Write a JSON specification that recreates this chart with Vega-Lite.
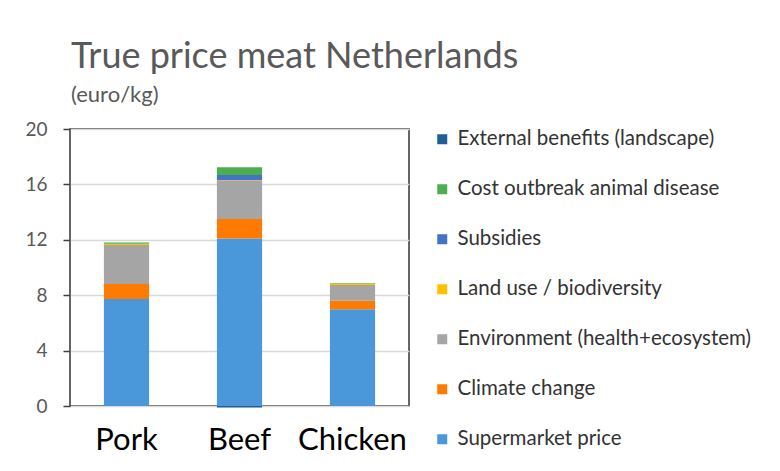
{
  "$schema": "https://vega.github.io/schema/vega-lite/v6.json",
  "width": 339,
  "height": 277,
  "autosize": {"type": "none"},
  "padding": {"left": 70, "top": 129, "right": 371, "bottom": 65},
  "background": "white",
  "title": {
    "text": "True price meat Netherlands",
    "subtitle": "(euro/kg)",
    "anchor": "start",
    "frame": "group",
    "font": "Lato",
    "fontSize": 36,
    "fontWeight": "normal",
    "color": "#595959",
    "subtitleFont": "Lato",
    "subtitleFontSize": 22,
    "subtitleColor": "#595959",
    "subtitlePadding": 9,
    "offset": 13,
    "dx": 1
  },
  "data": {
    "values": [
      {"meat": "Pork", "cat": "Supermarket price", "rank": 1, "value": 7.73},
      {"meat": "Pork", "cat": "Climate change", "rank": 2, "value": 1.08},
      {"meat": "Pork", "cat": "Environment (health+ecosystem)", "rank": 3, "value": 2.81},
      {"meat": "Pork", "cat": "Land use / biodiversity", "rank": 4, "value": 0.1},
      {"meat": "Pork", "cat": "Subsidies", "rank": 5, "value": 0.0},
      {"meat": "Pork", "cat": "Cost outbreak animal disease", "rank": 6, "value": 0.08},
      {"meat": "Pork", "cat": "External benefits (landscape)", "rank": 7, "value": 0.0},
      {"meat": "Beef", "cat": "Supermarket price", "rank": 1, "value": 12.1},
      {"meat": "Beef", "cat": "Climate change", "rank": 2, "value": 1.4},
      {"meat": "Beef", "cat": "Environment (health+ecosystem)", "rank": 3, "value": 2.77},
      {"meat": "Beef", "cat": "Land use / biodiversity", "rank": 4, "value": 0.03},
      {"meat": "Beef", "cat": "Subsidies", "rank": 5, "value": 0.38},
      {"meat": "Beef", "cat": "Cost outbreak animal disease", "rank": 6, "value": 0.55},
      {"meat": "Beef", "cat": "External benefits (landscape)", "rank": 7, "value": -0.1},
      {"meat": "Chicken", "cat": "Supermarket price", "rank": 1, "value": 6.98},
      {"meat": "Chicken", "cat": "Climate change", "rank": 2, "value": 0.62},
      {"meat": "Chicken", "cat": "Environment (health+ecosystem)", "rank": 3, "value": 1.14},
      {"meat": "Chicken", "cat": "Land use / biodiversity", "rank": 4, "value": 0.1},
      {"meat": "Chicken", "cat": "Subsidies", "rank": 5, "value": 0.0},
      {"meat": "Chicken", "cat": "Cost outbreak animal disease", "rank": 6, "value": 0.04},
      {"meat": "Chicken", "cat": "External benefits (landscape)", "rank": 7, "value": 0.0}
    ]
  },
  "mark": {"type": "bar"},
  "encoding": {
    "x": {
      "field": "meat",
      "type": "nominal",
      "sort": ["Pork", "Beef", "Chicken"],
      "scale": {"paddingInner": 0.6, "paddingOuter": 0.3},
      "axis": {
        "title": null,
        "labelAngle": 0,
        "labelFont": "Lato",
        "labelFontSize": 31,
        "labelColor": "#000000",
        "labelPadding": 43,
        "labelBaseline": "alphabetic",
        "ticks": false,
        "domain": false
      }
    },
    "y": {
      "field": "value",
      "type": "quantitative",
      "stack": "zero",
      "scale": {"domain": [0, 20], "nice": false},
      "axis": {
        "title": null,
        "values": [0, 4, 8, 12, 16, 20],
        "labelFont": "Lato",
        "labelFontSize": 19,
        "labelColor": "#595959",
        "labelPadding": 16,
        "tickSize": 7,
        "tickWidth": 1.5,
        "tickColor": "#404040",
        "domain": false,
        "gridColor": "#d9d9d9",
        "gridWidth": 1.5
      }
    },
    "color": {
      "field": "cat",
      "type": "nominal",
      "scale": {
        "domain": ["External benefits (landscape)", "Cost outbreak animal disease", "Subsidies", "Land use / biodiversity", "Environment (health+ecosystem)", "Climate change", "Supermarket price"],
        "range": ["#1f5e96", "#4cae4c", "#4472c4", "#ffc000", "#a5a5a5", "#ff7a00", "#4a98da"]
      },
      "legend": {
        "title": null,
        "orient": "none",
        "legendX": 362,
        "legendY": 0,
        "symbolType": "square",
        "symbolSize": 100,
        "symbolStrokeWidth": 0,
        "labelFont": "Lato",
        "labelFontSize": 20.5,
        "labelColor": "#333333",
        "labelLimit": 400,
        "rowPadding": 29,
        "labelOffset": 5
      }
    },
    "order": {"field": "rank", "type": "quantitative"}
  },
  "config": {
    "view": {"stroke": "#333333", "strokeWidth": 1.5}
  }
}
